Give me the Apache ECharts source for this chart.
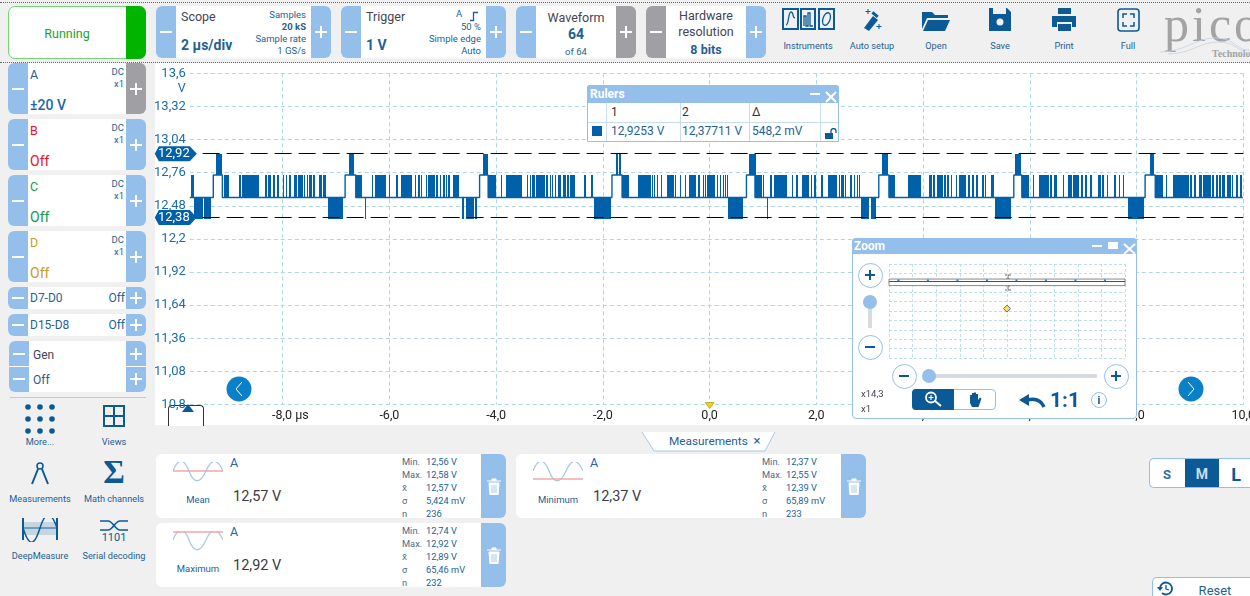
<!DOCTYPE html>
<html>
<head>
<meta charset="utf-8">
<title>PicoScope</title>
<script src="https://cdn.jsdelivr.net/npm/echarts@6/dist/echarts.min.js"></script>
<style>
html,body{margin:0;padding:0;width:1250px;height:596px;overflow:hidden;background:#f0f0f0;font-family:Roboto,"Noto Sans",sans-serif;}
.a{position:absolute;white-space:nowrap;}
#main{position:absolute;left:0;top:0;width:1250px;height:596px;z-index:2;}
#mini{position:absolute;left:885px;top:260px;width:244px;height:102px;z-index:5;}
#ui{position:absolute;left:0;top:0;width:1250px;height:596px;z-index:1;}
#over{position:absolute;left:0;top:0;width:1250px;height:596px;z-index:4;}
</style>
</head>
<body>
<div id="ui"></div>
<div id="main"></div>
<div id="over"></div>
<div id="mini"></div>
<script>
// axis ticks
var xTicks = [-8, -6, -4, -2, 0, 2, 4, 6, 8, 10];
var xTickLabels = ['\u00a0\u00a0\u00a0\u00a0\u00a0-8,0 µs', '-6,0', '-4,0', '-2,0', '0,0', '2,0', '4,0', '6,0', '8,0', '10,0'];
var yTicks = [10.8, 11.08, 11.36, 11.64, 11.92, 12.2, 12.48, 12.76, 13.04, 13.32, 13.6];
var yTickLabels = ['10,8', '11,08', '11,36', '11,64', '11,92', '12,2', '12,48', '12,76', '13,04', '13,32', '13,6'];

// signal levels (V)
var lowLevel = 12.55;
var highLevel = 12.74;
var topLevel = 12.92;
var bottomLevel = 12.37;

// rulers
var rulerLevels = [12.92, 12.38];
var rulerLabels = ['12,92', '12,38'];

// frame start boxes, time in µs
var frameBoxes = [[-9.30, -9.13], [-6.83, -6.63], [-4.31, -4.15], [-1.83, -1.64], [0.69, 0.85], [3.17, 3.36], [5.70, 5.85], [8.16, 8.35]];

// bursts going up to the 12,92 V level
var spikeBars = [[-9.25, -9.14], [-6.76, -6.66], [-4.24, -4.15], [-1.75, -1.72], [-1.70, -1.66], [0.74, 0.86], [3.23, 3.34], [5.72, 5.83], [8.25, 8.33]];

// bursts going down to the 12,37 V level
var lowBars = [[-9.66, -9.50], [-9.47, -9.34], [-7.15, -6.87], [-6.46, -6.44], [-4.64, -4.60], [-4.57, -4.41], [-4.39, -4.36],
    [-2.17, -1.85], [0.34, 0.63], [1.08, 1.10], [2.84, 2.99], [3.02, 3.12], [5.35, 5.65], [7.84, 8.14]];

// toggling between the low and high level
var highBars = [[-9.72, -9.71], [-9.69, -9.67], [-9.10, -9.01], [-8.81, -8.78], [-8.77, -8.44], [-8.33, -8.29], [-8.27, -8.22], [-8.19, -8.15],
    [-8.11, -8.07], [-7.99, -7.97], [-7.94, -7.92], [-7.88, -7.84], [-7.79, -7.73], [-7.71, -7.62], [-7.60, -7.58], [-7.55, -7.52],
    [-7.50, -7.45], [-7.43, -7.40], [-7.32, -7.27], [-7.24, -7.18],
    [-6.62, -6.51], [-6.33, -6.31], [-6.27, -6.06], [-6.00, -5.98], [-5.88, -5.83], [-5.78, -5.58], [-5.52, -5.50], [-5.46, -5.43],
    [-5.40, -5.38], [-5.31, -5.30], [-5.28, -5.14], [-5.13, -5.08], [-5.06, -5.05], [-4.99, -4.96], [-4.94, -4.92], [-4.90, -4.86], [-4.81, -4.70],
    [-4.15, -4.01], [-3.91, -3.89], [-3.82, -3.51], [-3.43, -3.41], [-3.37, -3.35], [-3.32, -3.27], [-3.25, -3.08], [-3.07, -3.03], [-3.00, -2.98],
    [-2.95, -2.93], [-2.89, -2.87], [-2.84, -2.78], [-2.75, -2.70], [-2.67, -2.63], [-2.62, -2.53], [-2.35, -2.32], [-2.22, -2.19],
    [-1.64, -1.51], [-1.34, -1.10], [-1.08, -1.06], [-1.04, -1.02], [-0.99, -0.97], [-0.91, -0.89], [-0.80, -0.67], [-0.65, -0.63], [-0.56, -0.54],
    [-0.47, -0.45], [-0.39, -0.26], [-0.22, -0.18], [-0.12, -0.10], [-0.08, -0.07], [-0.04, 0.10], [0.13, 0.15], [0.19, 0.21], [0.25, 0.27], [0.29, 0.31], [0.32, 0.33],
    [0.85, 0.98], [1.00, 1.02], [1.13, 1.17], [1.21, 1.45], [1.54, 1.56], [1.62, 1.66], [1.73, 1.86], [1.90, 1.92], [1.96, 1.99], [2.09, 2.12],
    [2.22, 2.39], [2.42, 2.44], [2.47, 2.51], [2.54, 2.56], [2.63, 2.67], [2.71, 2.72], [2.76, 2.78], [2.80, 2.82],
    [3.36, 3.47], [3.72, 3.96], [4.11, 4.17], [4.19, 4.22], [4.26, 4.38], [4.40, 4.42], [4.45, 4.49], [4.52, 4.54], [4.62, 4.64], [4.67, 4.80],
    [4.84, 4.88], [4.92, 4.95], [4.99, 5.03], [5.10, 5.14], [5.16, 5.18], [5.27, 5.33],
    [5.85, 5.98], [6.06, 6.08], [6.17, 6.36], [6.38, 6.42], [6.45, 6.51], [6.62, 6.64], [6.72, 6.79], [6.81, 6.92], [6.96, 7.00], [7.03, 7.07],
    [7.13, 7.17], [7.28, 7.33], [7.35, 7.39], [7.45, 7.46], [7.58, 7.61], [7.67, 7.69], [7.75, 7.77],
    [8.35, 8.50], [8.55, 8.57], [8.68, 8.98], [9.00, 9.04], [9.08, 9.11], [9.17, 9.23], [9.25, 9.39], [9.41, 9.45], [9.49, 9.53], [9.54, 9.58],
    [9.60, 9.66], [9.69, 9.77], [9.79, 9.81], [9.86, 9.90], [9.94, 9.98]];

var traceStart = -9.74;
var traceEnd = 9.99;

// overview window (zoom panel)
var miniMarks = [-9.2, -6.7, -4.2, -1.7, 0.8, 3.3, 5.8, 8.3];
var triggerLevel = 1;
var windowTop = 13.6;
var windowBottom = 10.8;

var BLUE = '#0060a9';
var PANEL = '#94bfea';
var DARK = '#0b5a96';
var TXT = '#245f96';

// idle line with the frame start boxes
function buildTrace() {
    var pts = [[traceStart, lowLevel]];
    frameBoxes.forEach(function (b) {
        pts.push([b[0], lowLevel], [b[0], highLevel], [b[1], highLevel], [b[1], lowLevel]);
    });
    pts.push([traceEnd, lowLevel]);
    return pts;
}

function buildBlocks() {
    var out = [];
    highBars.forEach(function (b) { out.push([b[0], b[1], lowLevel, highLevel]); });
    lowBars.forEach(function (b) { out.push([b[0], b[1], bottomLevel, lowLevel]); });
    spikeBars.forEach(function (b) { out.push([b[0], b[1], highLevel, topLevel]); });
    return out;
}

function renderBlock(params, api) {
    var p0 = api.coord([api.value(0), api.value(3)]);
    var p1 = api.coord([api.value(1), api.value(2)]);
    // snapped to whole pixels so the thin bars stay solid
    var x0 = Math.round(p0[0]);
    return {
        type: 'rect',
        shape: { x: x0, y: Math.round(p0[1]), width: Math.max(Math.round(p1[0]) - x0, 1), height: Math.round(p1[1]) - Math.round(p0[1]) },
        style: { fill: BLUE }
    };
}

// value tags to the left of the rulers
function renderTag(params, api) {
    var c = api.coord([traceStart, api.value(0)]);
    var x = c[0], y = c[1];
    return {
        type: 'group',
        children: [{
            type: 'polygon',
            shape: { points: [[x - 35, y], [x - 31, y - 7.5], [x, y - 7.5], [x + 7, y], [x, y + 7.5], [x - 31, y + 7.5]] },
            style: { fill: BLUE }
        }, {
            type: 'text',
            style: { text: rulerLabels[params.dataIndex], x: x - 16, y: y, fill: '#fff', font: '13px Roboto', align: 'center', verticalAlign: 'middle' }
        }]
    };
}

var chart = echarts.init(document.getElementById('main'));
chart.setOption({
    animation: false,
    grid: { left: 189.8, top: 73.3, width: 1053.5, height: 331.2, outerBoundsMode: 'none' },
    xAxis: {
        type: 'value', min: traceStart, max: 10,
        axisLine: { show: false },
        axisTick: { show: false, customValues: xTicks },
        axisLabel: {
            customValues: xTicks, margin: 5, color: '#222', fontSize: 12.5, fontFamily: 'Roboto',
            formatter: function (v) { return xTickLabels[xTicks.indexOf(v)]; }
        },
        splitLine: { show: true, lineStyle: { color: '#aed7e6', type: [4, 3], width: 1 } }
    },
    yAxis: {
        type: 'value', min: 10.8, max: 13.6,
        name: 'V', nameLocation: 'end', nameGap: -22,
        nameTextStyle: { color: '#1c6cad', fontSize: 12.5, fontFamily: 'Roboto', align: 'right', padding: [0, 4, 0, 0] },
        axisLine: { show: false, onZero: false },
        axisTick: { show: false, customValues: yTicks },
        axisLabel: {
            customValues: yTicks, margin: 4, color: '#1c6cad', fontSize: 13, fontFamily: 'Roboto',
            formatter: function (v) { return yTickLabels[yTicks.indexOf(v)]; }
        },
        splitLine: { show: true, lineStyle: { color: '#aed7e6', type: [4, 3], width: 1 } }
    },
    series: [{
        type: 'line', data: buildTrace(), symbol: 'none', silent: true,
        lineStyle: { color: BLUE, width: 1.4 },
        markLine: {
            silent: true, symbol: 'none', animation: false, label: { show: false }, z: 6,
            lineStyle: { color: '#000', type: [17, 7], width: 1.2 },
            data: rulerLevels.map(function (v) { return [{ coord: [-9.5, v] }, { coord: [10, v] }]; })
        },
        markPoint: {
            silent: true, symbol: 'triangle', symbolSize: [9, 6], symbolRotate: 180, label: { show: false },
            itemStyle: { color: '#f2d400', borderColor: '#8a7a00', borderWidth: 0.5 },
            data: [{ coord: [0, 10.8], symbolOffset: [0, 1] }]
        }
    }, {
        type: 'custom', data: buildBlocks(), renderItem: renderBlock, silent: true,
        encode: { x: [0, 1], y: [2, 3] }
    }, {
        type: 'custom', data: rulerLevels.map(function (v) { return [v]; }), renderItem: renderTag, silent: true, z: 8,
        encode: { y: 0 }
    }]
});

// overview in the zoom panel
var mini = echarts.init(document.getElementById('mini'));
mini.setOption({
    animation: false,
    grid: { left: 4, right: 4, top: 4, bottom: 4, outerBoundsMode: 'none' },
    xAxis: {
        type: 'value', min: -10, max: 10, interval: 2,
        axisLine: { show: false }, axisTick: { show: false }, axisLabel: { show: false },
        splitLine: { lineStyle: { color: '#bfe0ea', type: [3, 2] } }
    },
    yAxis: {
        type: 'value', min: -20, max: 20, interval: 4,
        axisLine: { show: false, onZero: false }, axisTick: { show: false }, axisLabel: { show: false },
        splitLine: { lineStyle: { color: '#bfe0ea', type: [3, 2] } }
    },
    series: [{
        type: 'line', data: [[-10, lowLevel], [10, lowLevel]], symbol: 'none', silent: true,
        lineStyle: { color: BLUE, width: 1 },
        markArea: {
            silent: true, itemStyle: { color: '#fff', borderColor: '#888', borderWidth: 1 },
            data: [[{ coord: [-10, windowTop] }, { coord: [10, windowBottom] }]]
        }
    }, {
        type: 'scatter', silent: true, symbol: 'rect', symbolSize: [2, 2], symbolOffset: [0, -1], z: 5,
        itemStyle: { color: BLUE },
        data: miniMarks.map(function (t) { return [t, lowLevel]; })
    }, {
        type: 'scatter', silent: true, symbol: 'diamond', symbolSize: 7, z: 5,
        itemStyle: { color: '#ffe600', borderColor: '#1a3fd0', borderWidth: 1 },
        data: [[0, triggerLevel]]
    }]
});

/* ---------- application chrome around the chart ---------- */
var ui = document.getElementById('ui');
var over = document.getElementById('over');

function box(p, x, y, w, h, css) {
    var d = document.createElement('div');
    d.className = 'a';
    d.style.cssText = 'left:' + x + 'px;top:' + y + 'px;width:' + w + 'px;height:' + h + 'px;' + (css || '');
    p.appendChild(d);
    return d;
}
// y is the vertical middle of the text
function txt(p, s, x, y, size, color, align, extra) {
    var d = document.createElement('div');
    d.className = 'a';
    var tx = align === 'c' ? '-50%' : (align === 'r' ? '-100%' : '0');
    d.style.cssText = 'left:' + x + 'px;top:' + y + 'px;transform:translate(' + tx + ',-50%);font-size:' + size + 'px;color:' + color + ';' + (extra || '');
    d.textContent = s;
    p.appendChild(d);
    return d;
}
function svg(p, x, y, w, h, inner) {
    var d = box(p, x, y, w, h);
    d.innerHTML = '<svg width="' + w + '" height="' + h + '" viewBox="0 0 ' + w + ' ' + h + '" xmlns="http://www.w3.org/2000/svg">' + inner + '</svg>';
    return d;
}
function sign(p, cx, cy, plus, color, len) {
    len = len || 12;
    box(p, cx - len / 2, cy - 1, len, 2, 'background:' + (color || '#fff'));
    if (plus) box(p, cx - 1, cy - len / 2, 2, len, 'background:' + (color || '#fff'));
}
// white control with - and + ends
function control(x, y, w, h, endW, minusBg, plusBg) {
    box(ui, x, y, w, h, 'background:#fff;border-radius:6px;');
    box(ui, x, y, endW, h, 'background:' + minusBg + ';border-radius:6px 0 0 6px;');
    box(ui, x + w - endW, y, endW, h, 'background:' + plusBg + ';border-radius:0 6px 6px 0;');
    sign(ui, x + endW / 2, y + h / 2, false);
    sign(ui, x + w - endW / 2, y + h / 2, true);
}

box(ui, 0, 2, 1250, 0, 'border-top:1px dotted #666;');
box(ui, 0, 62, 1250, 0, 'border-top:1px dotted #666;');
box(ui, 155, 63, 1095, 362, 'background:#fff;');

// run button
box(ui, 8, 6, 138, 53, 'box-sizing:border-box;background:#fff;border:1px solid #74d274;border-radius:7px;');
box(ui, 126, 6, 20, 53, 'background:#00b400;border-radius:0 7px 7px 0;');
txt(ui, 'Running', 67, 33, 12.5, '#19a52a', 'c');

// top controls
control(156, 6, 175, 52, 20, PANEL, PANEL);
txt(ui, 'Scope', 181, 16, 12.5, '#445', 'l');
txt(ui, '2 µs/div', 181, 45, 14, TXT, 'l', 'font-weight:700;');
[['Samples', 14, 0], ['20 kS', 26, 1], ['Sample rate', 38, 0], ['1 GS/s', 50, 0]].forEach(function (r) {
    txt(ui, r[0], 306, r[1], 9.5, TXT, 'r', r[2] ? 'font-weight:700;' : '');
});
control(341, 6, 165, 52, 20, PANEL, PANEL);
txt(ui, 'Trigger', 366, 16, 12.5, '#445', 'l');
txt(ui, '1 V', 366, 45, 14, TXT, 'l', 'font-weight:700;');
txt(ui, 'A', 456, 13, 9.5, TXT, 'l');
svg(ui, 468, 7, 13, 11, '<path d="M2 9.5H5.5V1.5H10" fill="none" stroke="' + TXT + '" stroke-width="1.3"/>');
[['50 %', 26], ['Simple edge', 38], ['Auto', 50]].forEach(function (r) {
    txt(ui, r[0], 481, r[1], 9.5, TXT, 'r');
});
control(516, 6, 120, 52, 20, PANEL, '#a0a0a4');
txt(ui, 'Waveform', 576, 17, 12.5, '#445', 'c');
txt(ui, '64', 576, 34, 14, TXT, 'c', 'font-weight:700;');
txt(ui, 'of 64', 576, 51, 9.5, TXT, 'c');
control(646, 6, 120, 52, 20, '#a0a0a4', PANEL);
txt(ui, 'Hardware', 706, 15, 12.5, '#445', 'c');
txt(ui, 'resolution', 706, 31, 12.5, '#445', 'c');
txt(ui, '8 bits', 706, 49, 12.5, TXT, 'c', 'font-weight:700;');

// toolbar icons
var s = 'fill="none" stroke="' + DARK + '"';
svg(ui, 782, 8, 53, 22, '<g ' + s + ' stroke-width="2"><rect x="1" y="1" width="15" height="20"/><rect x="19" y="1" width="14" height="20"/><rect x="37" y="1" width="15" height="20"/></g>' +
    '<g ' + s + ' stroke-width="1.3"><path d="M4 17C7 17 6 4 9 4S10 10 13 10"/><path d="M22 18V8H24V18H26V5H28V18H31"/><ellipse cx="44.5" cy="11" rx="3.5" ry="6.5" transform="rotate(20 44.5 11)"/></g>');
txt(ui, 'Instruments', 808, 45, 9.2, TXT, 'c');
svg(ui, 860, 7, 24, 26, '<path d="M13 9L18 13L9 24L4 21Z" fill="' + DARK + '"/><rect x="12" y="6" width="7" height="3" transform="rotate(40 15 7)" fill="' + DARK + '"/>' +
    '<path d="M8 2V7M5.5 4.5H10.5M19 17V22M16.5 19.5H21.5" stroke="' + DARK + '" stroke-width="1"/>');
txt(ui, 'Auto setup', 872, 45, 9.2, TXT, 'c');
svg(ui, 921, 9, 30, 23, '<path d="M1 3H11L14 6H27V9H6L1 20Z" fill="' + DARK + '"/><path d="M7 11H29L24 22H2Z" fill="' + DARK + '"/>');
txt(ui, 'Open', 936, 45, 9.2, TXT, 'c');
svg(ui, 989, 8, 23, 24, '<path d="M0 0H18L22 4V23H0Z" fill="' + DARK + '"/><rect x="4" y="0" width="13" height="6" fill="#f0f0f0"/><circle cx="11" cy="14" r="3.5" fill="#f0f0f0"/>');
txt(ui, 'Save', 1000, 45, 9.2, TXT, 'c');
svg(ui, 1052, 8, 25, 24, '<rect x="6" y="0" width="13" height="6" fill="' + DARK + '"/><path d="M0 8H24V19H20V14H5V19H0Z" fill="' + DARK + '"/><rect x="6" y="16" width="13" height="7" fill="' + DARK + '"/>');
txt(ui, 'Print', 1064, 45, 9.2, TXT, 'c');
svg(ui, 1117, 8, 23, 24, '<rect x="1" y="1" width="21" height="22" rx="3" ' + s + ' stroke-width="1.6"/><path d="M6 10V6H10M17 10V6H13M6 14V18H10M17 14V18H13" ' + s + ' stroke-width="1.5"/>');
txt(ui, 'Full', 1128, 45, 9.2, TXT, 'c');

// logo
txt(ui, 'pico', 1164, 24, 50, '#a3a3a3', 'l', 'font-family:"Liberation Serif",serif;letter-spacing:3px;');
txt(ui, 'Technology', 1212, 53, 10, '#a3a3a3', 'l', 'font-family:"Liberation Serif",serif;font-weight:700;');
svg(ui, 1160, 36, 90, 20, '<path d="M0 16C25 16 35 2 55 2S75 14 90 14M8 18C30 18 40 6 58 6S78 16 90 17" fill="none" stroke="#c3d3df" stroke-width="0.8"/>');

// input channels
var channels = [['A', '±20 V', 63, TXT, '#1d66a8', '#a0a0a4'], ['B', 'Off', 119, '#e8112d', '#e8112d', PANEL],
    ['C', 'Off', 175, '#0b9a50', '#0b9a50', PANEL], ['D', 'Off', 231, '#c79a1f', '#c79a1f', PANEL]];
channels.forEach(function (c) {
    control(8, c[2], 138, 51, 20, PANEL, c[5]);
    txt(ui, c[0], 30, c[2] + 11, 12.5, c[3], 'l');
    txt(ui, c[1], 30, c[2] + 42, 14, c[4], 'l', c[0] === 'A' ? 'font-weight:500;' : '');
    txt(ui, 'DC', 124, c[2] + 8, 9.5, TXT, 'r');
    txt(ui, 'x1', 124, c[2] + 20, 9.5, TXT, 'r');
});
[['D7-D0', 287], ['D15-D8', 314]].forEach(function (c) {
    control(8, c[1], 138, 22, 20, PANEL, PANEL);
    txt(ui, c[0], 30, c[1] + 11, 12, TXT, 'l');
    txt(ui, 'Off', 125, c[1] + 11, 12, TXT, 'r');
});
box(ui, 9, 341, 137, 51, 'background:#fff;border-radius:6px;');
box(ui, 9, 341, 20, 25, 'background:' + PANEL + ';border-radius:6px 0 0 0;');
box(ui, 9, 367, 20, 25, 'background:' + PANEL + ';border-radius:0 0 0 6px;');
box(ui, 126, 341, 20, 25, 'background:' + PANEL + ';border-radius:0 6px 0 0;');
box(ui, 126, 367, 20, 25, 'background:' + PANEL + ';border-radius:0 0 6px 0;');
sign(ui, 19, 354, false); sign(ui, 19, 379, false); sign(ui, 136, 354, true); sign(ui, 136, 379, true);
txt(ui, 'Gen', 33, 355, 12, '#445', 'l');
txt(ui, 'Off', 33, 380, 12, TXT, 'l');
box(ui, 10, 397, 136, 1, 'background:#c8c8c8;');

// lower left tools
var dots = '';
[5, 17, 29].forEach(function (y) { [5, 17, 29].forEach(function (x) { dots += '<circle cx="' + x + '" cy="' + y + '" r="2.8" fill="' + DARK + '"/>'; }); });
svg(ui, 23, 402, 34, 34, dots);
txt(ui, 'More...', 40, 441, 9.2, TXT, 'c');
svg(ui, 103, 405, 22, 22, '<rect x="1" y="1" width="20" height="20" ' + s + ' stroke-width="2"/><path d="M11 1V21M1 11H21" ' + s + ' stroke-width="2"/>');
txt(ui, 'Views', 114, 441, 9.2, TXT, 'c');
svg(ui, 30, 461, 20, 25, '<circle cx="10" cy="5" r="3" ' + s + ' stroke-width="1.6"/><path d="M8 8L2 23M12 8L18 23" ' + s + ' stroke-width="2"/>');
txt(ui, 'Measurements', 40, 498, 9.2, TXT, 'c');
txt(ui, 'Σ', 114, 472, 33, DARK, 'c', 'font-family:"Liberation Serif",serif;font-weight:700;');
txt(ui, 'Math channels', 114, 498, 9.2, TXT, 'c');
svg(ui, 21, 518, 38, 24, '<path d="M2 0V22M36 0V22" ' + s + ' stroke-width="2"/><path d="M2 10H36" ' + s + ' stroke-width="1.3"/><rect x="3" y="4" width="32" height="13" fill="#9cbcd2" opacity="0.5"/><path d="M2 10C9 32 14 26 19 10S30 -8 36 10" ' + s + ' stroke-width="1.5"/>');
txt(ui, 'DeepMeasure', 40, 555, 9.2, TXT, 'c');
svg(ui, 99, 517, 30, 13, '<path d="M1 2H9C14 2 16 11 21 11H29M1 11H9C14 11 16 2 21 2H29" ' + s + ' stroke-width="1.6"/>');
txt(ui, '1101', 114, 537, 11, DARK, 'c');
txt(ui, 'Serial decoding', 114, 555, 9.2, TXT, 'c');

// measurements tab
svg(ui, 640, 431, 138, 22, '<path d="M2 1L14 20H125L135 1" fill="#fff" stroke="#a8c8e8" stroke-width="1"/>');
txt(ui, 'Measurements', 669, 441, 11.8, TXT, 'l');
txt(ui, '×', 757, 440, 13, TXT, 'c');

var statNames = ['Min.', 'Max.', 'x̄', 'σ', 'n'];
var cards = [
    ['Mean', '12,57 V', ['12,56 V', '12,58 V', '12,57 V', '5,424 mV', '236'], 156, 454, 'M0 9H50'],
    ['Maximum', '12,92 V', ['12,74 V', '12,92 V', '12,89 V', '65,46 mV', '232'], 156, 523, 'M0 1H50'],
    ['Minimum', '12,37 V', ['12,37 V', '12,55 V', '12,39 V', '65,89 mV', '233'], 516, 454, 'M0 17H50']
];
cards.forEach(function (c) {
    var x = c[3], y = c[4];
    box(ui, x, y, 350, 64, 'background:#fff;border-radius:6px;');
    box(ui, x + 325, y, 25, 64, 'background:' + PANEL + ';border-radius:0 6px 6px 0;');
    svg(ui, x + 17, y + 8, 50, 20, '<path d="M0 9C5 -4 11 -4 16 9S27 22 33 9S44 -4 50 9" fill="none" stroke="#a9c9e8" stroke-width="1.3"/><path d="' + c[5] + '" stroke="#f2a8a8" stroke-width="1.4"/>');
    txt(ui, 'A', x + 74, y + 8, 12.5, '#1d66a8', 'l');
    txt(ui, c[0], x + 42, y + 45, 9.5, TXT, 'c');
    txt(ui, c[1], x + 77, y + 42, 14.5, '#3b3b45', 'l');
    statNames.forEach(function (n, i) {
        txt(ui, n, x + 246, y + 7 + i * 13, 9.3, '#4a6a8a', 'l');
        txt(ui, c[2][i], x + 270, y + 7 + i * 13, 9.3, TXT, 'l');
    });
    svg(ui, x + 331, y + 24, 14, 17, '<path d="M0 3H14M5 3V1H9V3M2 5H12L11 17H3Z" fill="#fff" stroke="#fff" stroke-width="1"/><path d="M5 7V15M7 7V15M9 7V15" stroke="' + PANEL + '" stroke-width="0.8"/>');
});

// S M L and reset
box(ui, 1149, 458, 101, 30, 'box-sizing:border-box;background:#fff;border:1px solid #94bfea;border-right:0;border-radius:5px 0 0 5px;');
box(ui, 1185, 459, 34, 28, 'background:' + DARK + ';');
txt(ui, 'S', 1167, 474, 13, '#2f6ea8', 'c', 'font-weight:700;');
txt(ui, 'M', 1202, 474, 14, '#c8dcf0', 'c', 'font-weight:700;');
txt(ui, 'L', 1236, 474, 18, DARK, 'c', 'font-weight:700;');
box(ui, 1152, 577, 98, 19, 'box-sizing:border-box;background:#fff;border:1px solid #94bfea;border-right:0;border-bottom:0;border-radius:5px 0 0 0;');
svg(ui, 1157, 581, 18, 15, '<path d="M3 7A6 6 0 1 1 5 12" ' + s + ' stroke-width="1.8"/><path d="M9 4V8L12 9" ' + s + ' stroke-width="1.3"/><path d="M0 6H6L3 10Z" fill="' + DARK + '"/>');
txt(ui, 'Reset', 1215, 590, 13, TXT, 'c');

/* ---------- things lying on top of the plot ---------- */
// lower left marker and box
box(ui, 168, 405, 36, 21, 'box-sizing:border-box;border:1px solid #333;border-bottom:0;border-radius:4px 4px 0 0;background:#fff;');
svg(over, 181, 397, 14, 8, '<path d="M7 0L13 8H1Z" fill="' + DARK + '"/>');

// scroll arrows
[239, 1191].forEach(function (x, i) {
    var d = i ? 'M10 6L16 13L10 20' : 'M16 6L10 13L16 20';
    svg(over, x - 13, 376, 26, 26, '<circle cx="13" cy="13" r="12.5" fill="#0a80c8"/><path d="' + d + '" fill="none" stroke="#fff" stroke-width="1"/>');
});

// rulers window
box(over, 587, 85, 252, 57, 'box-sizing:border-box;background:#fff;border:1px solid #94bfea;border-radius:3px 3px 0 0;');
box(over, 587, 85, 252, 18, 'background:' + PANEL + ';border-radius:3px 3px 0 0;');
txt(over, 'Rulers', 590, 94, 12, '#fff', 'l', 'font-weight:700;');
box(over, 810, 93, 10, 1.5, 'background:#fff;');
svg(over, 825, 88, 12, 12, '<path d="M1 1L11 11M11 1L1 11" stroke="#fff" stroke-width="2"/>');
box(over, 588, 122, 250, 1, 'background:#c9ddf0;');
[606, 680, 749, 820].forEach(function (x) { box(over, x, 103, 1, 38, 'background:#c9ddf0;'); });
txt(over, '1', 611, 112, 12, '#333', 'l');
txt(over, '2', 682, 112, 12, '#333', 'l');
txt(over, 'Δ', 752, 112, 12, '#333', 'l');
box(over, 592, 126, 10, 10, 'background:' + BLUE + ';');
txt(over, '12,9253 V', 611, 131, 12, TXT, 'l');
txt(over, '12,37711 V', 682, 131, 12, TXT, 'l');
txt(over, '548,2 mV', 752, 131, 12, TXT, 'l');
svg(over, 824, 125, 13, 12, '<rect x="1" y="5" width="8" height="6" fill="' + DARK + '"/><path d="M7 5V3A2.5 2.5 0 0 1 12 3V5" fill="none" stroke="' + DARK + '" stroke-width="1.3"/>');

// zoom window
box(over, 852, 238, 285, 181, 'box-sizing:border-box;background:#fff;border:1px solid #94bfea;border-radius:4px;');
box(over, 852, 238, 285, 16, 'background:' + PANEL + ';border-radius:4px 4px 0 0;');
txt(over, 'Zoom', 854, 246, 12, '#fff', 'l', 'font-weight:700;');
box(over, 1092, 245, 10, 1.5, 'background:#fff;');
box(over, 1108, 242, 10, 7, 'background:#fff;');
svg(over, 1123, 240, 13, 12, '<path d="M1 1L12 11M12 1L1 11" stroke="#fff" stroke-width="2"/>');

function circleBtn(cx, cy, plus) {
    box(over, cx - 12.5, cy - 12.5, 25, 25, 'box-sizing:border-box;border:1px solid #94bfea;border-radius:50%;background:#fff;');
    sign(over, cx, cy, plus, DARK, 10);
}
circleBtn(870, 275, true);
circleBtn(870, 347, false);
circleBtn(904, 376, false);
circleBtn(1116, 376, true);
box(over, 868, 302, 4, 26, 'background:#d8dae2;');
box(over, 929, 374, 168, 4, 'background:#d8dae2;');
box(over, 863, 295, 14, 14, 'background:' + PANEL + ';border-radius:50%;');
box(over, 922, 369, 14, 14, 'background:' + PANEL + ';border-radius:50%;');
txt(over, 'x14,3', 861, 393, 9.5, '#445', 'l');
txt(over, 'x1', 861, 408, 9.5, '#445', 'l');
box(over, 912, 389, 84, 21, 'box-sizing:border-box;border:1px solid #94bfea;border-radius:4px;background:#fff;');
box(over, 912, 389, 42, 21, 'background:' + DARK + ';border-radius:4px 0 0 4px;');
svg(over, 924, 391, 20, 17, '<circle cx="7" cy="6.5" r="5" fill="none" stroke="#fff" stroke-width="1.8"/><path d="M4.5 6.5H9.5M7 4V9" stroke="#fff" stroke-width="1.2"/><path d="M11 10L17 15" stroke="#fff" stroke-width="2"/>');
svg(over, 967, 391, 16, 17, '<path d="M3 8V4H5V8V2H7V8V1.5H9V8V3H11V9L13 6.5L14.5 7.5L11.5 16H5L3 12Z" fill="' + DARK + '"/>');
svg(over, 1019, 392, 27, 16, '<path d="M25 15C22 8 16 6 8 8" fill="none" stroke="' + DARK + '" stroke-width="3.5"/><path d="M0 8L10 2V14Z" fill="' + DARK + '"/>');
txt(over, '1:1', 1065, 400, 21, DARK, 'c', 'font-weight:700;');
box(over, 1091, 392, 16, 16, 'box-sizing:border-box;border:1px solid #94bfea;border-radius:50%;background:#fff;');
txt(over, 'i', 1099, 400, 11, DARK, 'c', 'font-weight:700;');
svg(over, 1004, 274, 8, 18, '<path d="M1 1H7M4 1V5M2 5H6M1 16H7M4 12V16M2 12H6" stroke="#666" stroke-width="1"/>');
</script>
</body>
</html>
